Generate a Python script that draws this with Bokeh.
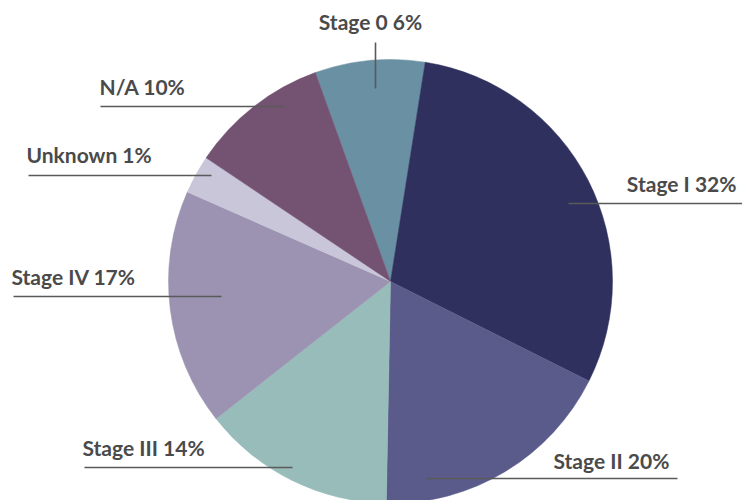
import numpy as np
from bokeh.plotting import figure
from bokeh.models import ColumnDataSource, Range1d
from bokeh.core.properties import value
from bokeh.embed import file_html
from bokeh.resources import INLINE

# ---- data (clockwise from the Stage 0 slice) ----
categories = ["Stage 0", "Stage I", "Stage II", "Stage III", "Stage IV", "Unknown", "N/A"]
shares = [8.0, 29.9, 17.9, 14.1, 17.2, 2.8, 10.1]          # drawn slice sizes (% of circle)
label_pct = ["6%", "32%", "20%", "14%", "17%", "1%", "10%"]  # percentages printed on labels
colors = ["#6a90a3", "#2f305e", "#5b5b8b", "#98bcba", "#9b93b1", "#c9c6da", "#745272"]

# ---- layout (pixel positions, y measured from top) ----
W, H = 742, 500
cx, cy, R = 390, 281, 222
start_offset_deg = -19.8  # clockwise from 12 o'clock

# label anchor (x, vertical centre y, align) and leader line (x0, y0, x1, y1)
label_pos = [(370, 20.5, "center"), (736, 182.5, "right"), (553, 460, "left"),
             (82, 447, "left"), (11, 275.5, "left"), (26, 154, "left"), (99, 85.5, "left")]
leaders = [(375, 42, 375, 88), (568, 203, 742, 203), (426, 478, 677, 478),
           (84, 467, 292, 467), (13, 296, 221, 296), (28, 175, 211, 175), (100, 106, 284, 106)]

vals = np.array(shares, dtype=float)
frac = vals / vals.sum()
cw_end = start_offset_deg + np.cumsum(frac) * 360.0
cw_start = cw_end - frac * 360.0
start_angle = np.radians(90.0 - cw_end)
end_angle = np.radians(90.0 - cw_start)

src = ColumnDataSource(dict(cat=categories, start=start_angle, end=end_angle, color=colors))

p = figure(width=W, height=H, x_range=Range1d(0, W), y_range=Range1d(0, H),
           x_axis_type=None, y_axis_type=None, toolbar_location=None,
           output_backend="svg", min_border=0, outline_line_color=None)
p.grid.visible = False
p.background_fill_color = "white"
p.border_fill_color = "white"

p.wedge(x=cx, y=H - cy, radius=R, start_angle="start", end_angle="end",
        direction="anticlock", fill_color="color", line_color="color", line_width=0.5,
        source=src)

# leader lines
p.segment(x0=[l[0] for l in leaders], y0=[H - l[1] for l in leaders],
          x1=[l[2] for l in leaders], y1=[H - l[3] for l in leaders],
          line_color="#5a5a5a", line_width=1.6)

# labels
for cat, pct, (lx, ly, al) in zip(categories, label_pct, label_pos):
    p.text(x=[lx], y=[H - ly], text=[f"{cat} {pct}"], text_align=al,
           text_baseline="middle", text_font=value("Lato"),
           text_font_style="bold", text_font_size="21px", text_color="#4a4a4a")

open("out.html", "w").write(file_html(p, INLINE))
